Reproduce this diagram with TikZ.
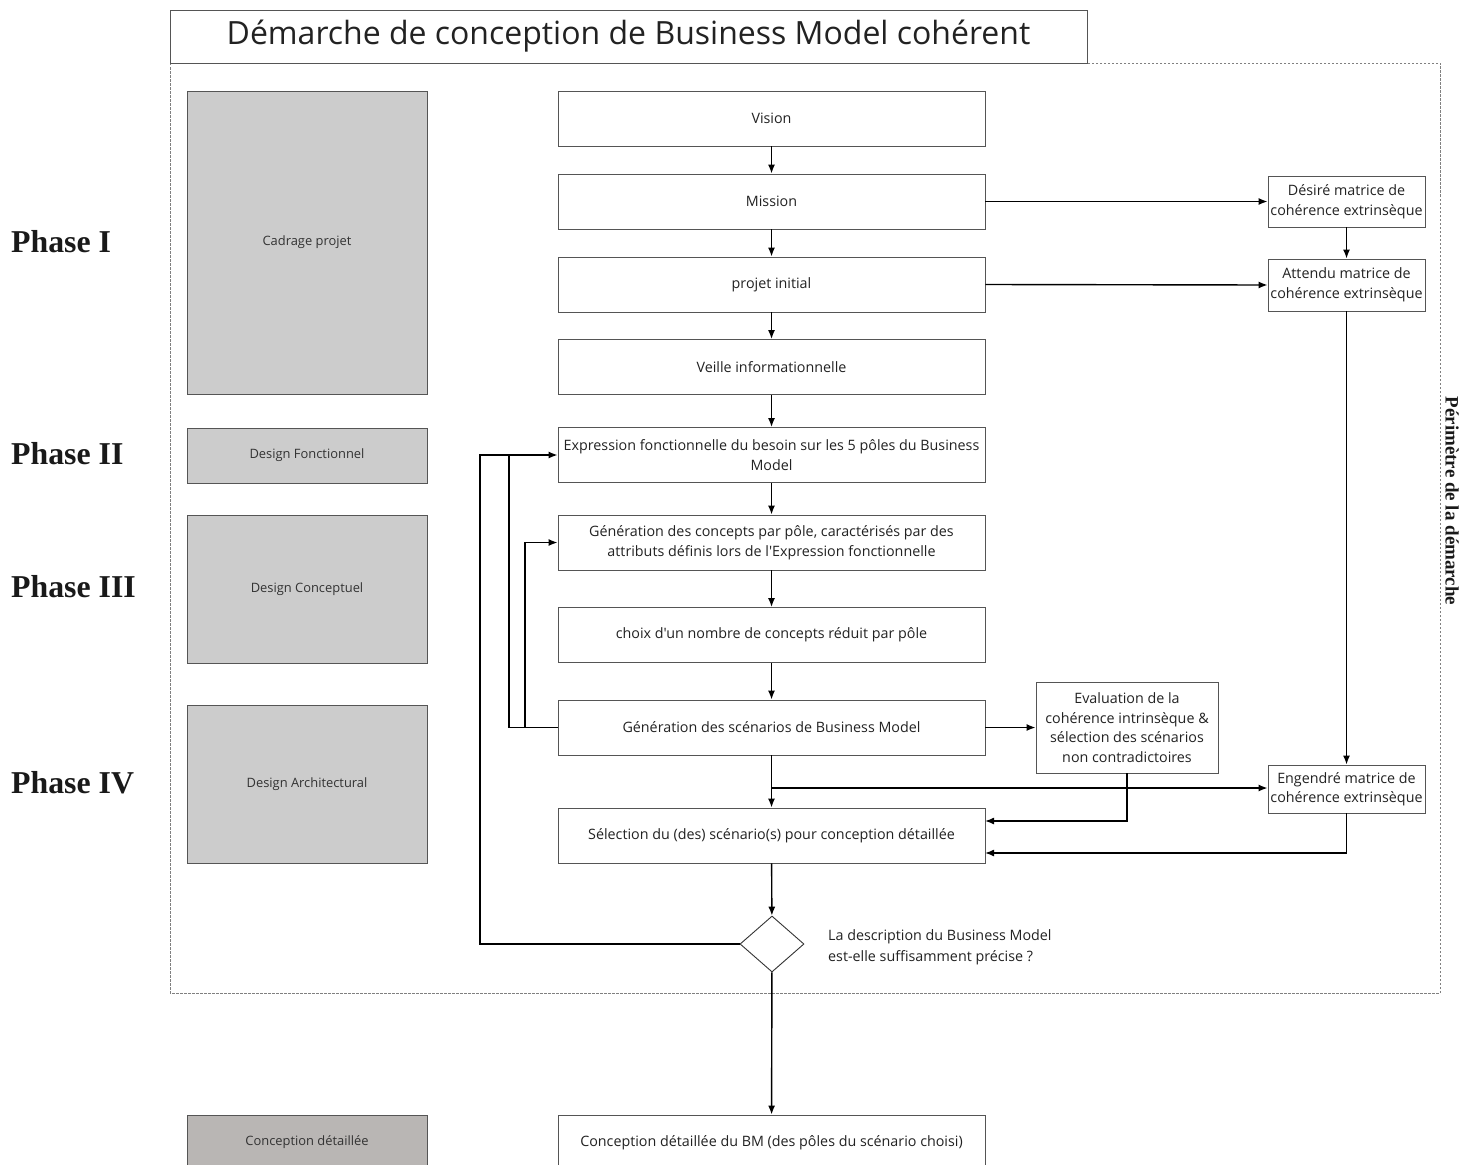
\documentclass[tikz,border=0pt]{standalone}
\usepackage{fontspec}
\setmainfont{Open Sans}[Ligatures=TeXOff]
\newfontfamily\serifb{Liberation Serif}
\usetikzlibrary{arrows.meta,shapes.geometric}
\definecolor{boxgray}{HTML}{CCCCCC}
\definecolor{boxdark}{HTML}{B9B6B4}
\definecolor{edge}{HTML}{555555}
\definecolor{txt}{HTML}{222222}
\begin{document}
\begin{tikzpicture}[x=1pt,y=-1pt,
  mainbox/.style={draw=edge,line width=0.9pt,fill=white,minimum width=427pt,minimum height=55pt,inner sep=2pt,
    align=center,text=txt,font=\fontsize{14.3}{19.5}\selectfont},
  sidebox/.style={draw=edge,line width=0.9pt,fill=white,minimum width=157pt,inner sep=2pt,
    align=center,text=txt,font=\fontsize{14.3}{19.5}\selectfont},
  graybox/.style={draw=edge,line width=0.9pt,fill=boxgray,minimum width=240pt,inner sep=0pt,
    text=black!80,font=\fontsize{12.9}{15}\selectfont},
  phaselbl/.style={anchor=west,inner sep=0pt,font=\serifb\bfseries\fontsize{31.8}{34}\selectfont,text=black!90},
  arr/.style={line width=1.4pt,-{Latex[length=9pt,width=7pt]}},
  ln/.style={line width=1.4pt}]
\useasboundingbox (0,0) rectangle (1474,1164);
\clip (0,0) rectangle (1474,1164);
\fill[white] (0,0) rectangle (1474,1164);

% perimeter
\draw[gray,line width=0.9pt,dash pattern=on 2.5pt off 1.5pt] (170,63) rectangle (1440,993);
\node[draw=edge,line width=0.9pt,fill=white,minimum width=917pt,minimum height=53pt,inner sep=0pt,
  font=\fontsize{32}{36}\selectfont,text=txt] (title) at (628.5,36.5) {Démarche de conception de Business Model cohérent};
\node[rotate=-90,inner sep=0pt,font=\serifb\bfseries\fontsize{19}{22}\selectfont,text=black!90] (perim) at (1452,501) {Périmètre de la démarche};

% phase labels
\node[phaselbl] (p1) at (11,242) {Phase I};
\node[phaselbl] (p2) at (11,454) {Phase II};
\node[phaselbl] (p3) at (11,587) {Phase III};
\node[phaselbl] (p4) at (11,783) {Phase IV};

% gray boxes
\node[graybox,minimum height=303pt] (cadrage) at (307,242.5) {Cadrage projet};
\node[graybox,minimum height=55pt] (dfonc) at (307,455.5) {Design Fonctionnel};
\node[graybox,minimum height=148pt] (dconc) at (307,589) {Design Conceptuel};
\node[graybox,minimum height=158pt] (darch) at (307,784) {Design Architectural};
\node[graybox,fill=boxdark,minimum height=55pt] (cdet) at (307,1142.5) {Conception détaillée};

% main column
\node[mainbox] (vision) at (771.5,118.5) {Vision};
\node[mainbox] (mission) at (771.5,201.5) {Mission};
\node[mainbox] (initial) at (771.5,284.5) {projet initial};
\node[mainbox] (veille) at (771.5,367) {Veille informationnelle};
\node[mainbox] (expr) at (771.5,455) {Expression fonctionnelle du besoin sur les 5 pôles du Business\\Model};
\node[mainbox] (gencon) at (771.5,542.5) {Génération des concepts par pôle, caractérisés par des\\attributs définis lors de l'Expression fonctionnelle};
\node[mainbox] (choix) at (771.5,635) {choix d'un nombre de concepts réduit par pôle};
\node[mainbox] (gensc) at (771.5,727.5) {Génération des scénarios de Business Model};
\node[mainbox] (selec) at (771.5,835.5) {Sélection du (des) scénario(s) pour conception détaillée};
\node[draw=black!80,line width=0.9pt,fill=white,diamond,aspect=1.14,minimum width=64pt,minimum height=56pt,inner sep=0pt] (dia) at (772,944) {};
\node[anchor=west,align=left,inner sep=0pt,text=txt,font=\fontsize{14.3}{21}\selectfont] (quest) at (828,947.5) {La description du Business Model\\est-elle suffisamment précise ?};
\node[mainbox] (concdet) at (771.5,1142.5) {Conception détaillée du BM (des pôles du scénario choisi)};

% right column
\node[sidebox,minimum height=51pt] (desire) at (1346.5,201.5) {Désiré matrice de\\cohérence extrinsèque};
\node[sidebox,minimum height=52pt] (attendu) at (1346.5,285) {Attendu matrice de\\cohérence extrinsèque};
\node[sidebox,minimum height=48pt] (engendre) at (1346.5,789) {Engendré matrice de\\cohérence extrinsèque};
\node[draw=edge,line width=0.9pt,fill=white,minimum width=182pt,minimum height=91pt,inner sep=2pt,
  align=center,text=txt,font=\fontsize{14.3}{19.5}\selectfont] (eval) at (1127,727.5) {Evaluation de la\\cohérence intrinsèque \&\\sélection des scénarios\\non contradictoires};

% coordinates
\coordinate (br) at (771.5,788);
\coordinate (s1) at (985,821);
\coordinate (s2) at (985,853);
\coordinate (lp1) at (480,455);
\coordinate (lp2) at (509,455);
\coordinate (lp3) at (525,727.5);

% connectors
\draw[arr] (vision) -- (mission);
\draw[arr] (mission) -- (initial);
\draw[arr] (initial) -- (veille);
\draw[arr] (veille) -- (expr);
\draw[arr] (expr) -- (gencon);
\draw[arr] (gencon) -- (choix);
\draw[arr] (choix) -- (gensc);
\draw[arr] (gensc) -- (selec);
\draw[arr] (selec) -- (dia);
\draw[arr] (dia) -- (concdet);
\draw[arr] (mission.east) -- (desire.west);
\draw[arr] (initial.east) -- (attendu.west);
\draw[arr] (desire) -- (attendu);
\draw[arr] (attendu) -- (engendre);
\draw[arr] (gensc.east) -- (eval.west);
\draw[arr] (br) -- (br -| engendre.west);
\draw[arr] (eval.south) |- (s1);
\draw[arr] (engendre.south) |- (s2);
\draw[arr] (dia.west) -| (lp1) -- (expr.west);
\draw[ln] (gensc.west) -| (lp2);
\draw[arr] (lp3) |- (gencon.west);
\end{tikzpicture}
\end{document}
